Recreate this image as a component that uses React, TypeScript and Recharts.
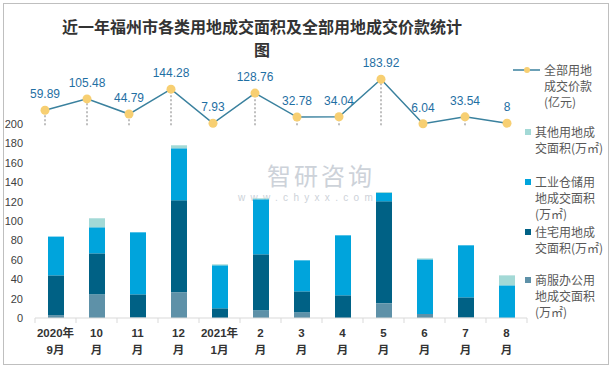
import { ComposedChart, Bar, Line, XAxis, YAxis, Legend, LabelList, ErrorBar } from 'recharts';

const months = ['2020年\n9月', '10\n月', '11\n月', '12\n月', '2021年\n1月', '2\n月', '3\n月', '4\n月', '5\n月', '6\n月', '7\n月', '8\n月'];
const commercialArea = [3, 24.4, 0.7, 26.5, 0, 7.9, 5.8, 0, 15.1, 4.1, 0.7, 0];
const residentialArea = [41, 42.3, 23.7, 94.9, 10, 57.8, 21.7, 23.4, 105.3, 0, 20.6, 0];
const industrialArea = [40, 26.9, 64, 53.7, 44.4, 56.8, 32, 61.9, 8.6, 56.4, 53.7, 33.7];
const otherArea = [0, 9.3, 0, 3.1, 1, 1, 0, 0, 1, 1, 0, 10.3];
const totalPrice = [59.89, 105.48, 44.79, 144.28, 7.93, 128.76, 32.78, 34.04, 183.92, 6.04, 33.54, 8];
const areaTicks = [0, 20, 40, 60, 80, 100, 120, 140, 160, 180, 200];

const data = months.map((month, i) => ({
  month,
  commercial: commercialArea[i],
  residential: residentialArea[i],
  industrial: industrialArea[i],
  other: otherArea[i],
  price: totalPrice[i],
  drop: [totalPrice[i], 0],
}));

// stack order bottom -> top
const barSeries = [
  { key: 'commercial', name: '商服办公用地成交面积(万㎡)', lines: ['商服办公用', '地成交面积', '(万㎡)'], color: '#5E91A8' },
  { key: 'residential', name: '住宅用地成交面积(万㎡)', lines: ['住宅用地成', '交面积(万㎡)'], color: '#006185' },
  { key: 'industrial', name: '工业仓储用地成交面积(万㎡)', lines: ['工业仓储用', '地成交面积', '(万㎡)'], color: '#00A4DC' },
  { key: 'other', name: '其他用地成交面积(万㎡)', lines: ['其他用地成', '交面积(万㎡)'], color: '#A3D9D6' },
];
const lineSeries = { key: 'price', name: '全部用地成交价款(亿元)', lines: ['全部用地', '成交价款', '(亿元)'], color: '#3A819E', dot: '#F7CF72' };

const legendText = { fontSize: 12, lineHeight: '16px', color: '#595959', fontFamily: "'Noto Sans CJK SC', sans-serif" };

function ChartLegend() {
  const bars = [...barSeries].reverse();
  const heights = [50, 50, 48, 50];
  return (
    <div style={{ width: 112 }}>
      <div style={{ height: 62, position: 'relative' }}>
        <svg width={30} height={16} style={{ position: 'absolute', left: 12, top: 0 }}>
          <line x1={1} x2={28} y1={8} y2={8} stroke={lineSeries.color} strokeWidth={1.5} />
          <circle cx={15} cy={8} r={3} fill={lineSeries.dot} />
        </svg>
        <div style={{ ...legendText, position: 'absolute', left: 44, top: 0 }}>
          {lineSeries.lines.map(t => <div key={t}>{t}</div>)}
        </div>
      </div>
      {bars.map((s, i) => (
        <div key={s.key} style={{ height: heights[i], position: 'relative' }}>
          <div style={{ position: 'absolute', left: 25, top: 5, width: 6, height: 6, background: s.color }} />
          <div style={{ ...legendText, position: 'absolute', left: 35, top: 0, whiteSpace: 'nowrap' }}>
            {s.lines.map(t => <div key={t}>{t}</div>)}
          </div>
        </div>
      ))}
    </div>
  );
}

function MonthTick(props: any) {
  const { x, y, payload, index, visibleTicksCount, width } = props;
  const band = (width || 492) / (visibleTicksCount || 12);
  const [top, bottom] = String(payload.value).split('\n');
  return (
    <g>
      <line x1={x - band / 2} x2={x - band / 2} y1={y} y2={y + 5} stroke="#D9D9D9" />
      {index === visibleTicksCount - 1 && (
        <line x1={x + band / 2} x2={x + band / 2} y1={y} y2={y + 5} stroke="#D9D9D9" />
      )}
      <text x={x} y={y + 19} textAnchor="middle" fontSize={11.5} fontWeight="bold" fill="#333">{top}</text>
      <text x={x} y={y + 36} textAnchor="middle" fontSize={11.5} fontWeight="bold" fill="#333">{bottom}</text>
    </g>
  );
}

export default function App() {
  return (
    <div style={{ position: 'absolute', left: 0, top: 0, width: 612, height: 368, background: '#fff', fontFamily: "'Liberation Sans', 'Noto Sans CJK SC', sans-serif" }}>
      <div style={{ position: 'absolute', left: 3, top: 3, width: 604, height: 360, border: '1px solid #BFBFBF' }} />
      <div style={{ position: 'absolute', left: 52, top: 15, width: 420, textAlign: 'center', fontSize: 16, lineHeight: '23px', fontWeight: 700, color: '#333', fontFamily: "'Noto Sans CJK SC', sans-serif" }}>
        近一年福州市各类用地成交面积及全部用地成交价款统计<br />图
      </div>
      <div style={{ position: 'absolute', left: 267, top: 163, fontSize: 24, lineHeight: '24px', color: '#CDD2D9', fontFamily: "'Noto Sans CJK SC', sans-serif", letterSpacing: 3 }}>
        智研咨询
      </div>
      <div style={{ position: 'absolute', left: 238, top: 192, fontSize: 10, lineHeight: '11px', color: '#CDD2D9', letterSpacing: 5.3 }}>
        www.chyxx.com
      </div>
      <ComposedChart width={612} height={368} data={data} margin={{ top: 66, right: 85, bottom: 0, left: 0 }} style={{ position: 'absolute', left: 0, top: 0 }}>
        <XAxis dataKey="month" interval={0} height={50} tickSize={0} tickMargin={0} tickLine={false} axisLine={{ stroke: '#D9D9D9' }} tick={<MonthTick />} />
        <XAxis xAxisId="line" dataKey="month" hide scale="point" padding={{ left: 10, right: 20 }} />
        <YAxis yAxisId="left" width={35} domain={[0, 260]} ticks={areaTicks} axisLine={false} tickLine={false} tickSize={0} tickMargin={12} tick={{ fontSize: 11, fill: '#404040' }} />
        <YAxis yAxisId="right" hide domain={[-771, 237]} allowDataOverflow />
        {barSeries.map(s => (
          <Bar key={s.key} dataKey={s.key} name={s.name} stackId="a" yAxisId="left" fill={s.color} barSize={16} isAnimationActive={false} />
        ))}
        <Line
          dataKey={lineSeries.key}
          name={lineSeries.name}
          xAxisId="line"
          yAxisId="right"
          stroke={lineSeries.color}
          strokeWidth={1.5}
          dot={{ r: 4.5, fill: lineSeries.dot, stroke: lineSeries.dot, strokeWidth: 0 }}
          activeDot={false}
          isAnimationActive={false}
        >
          <ErrorBar dataKey="drop" direction="y" width={0} stroke="#BFBFBF" strokeWidth={2} strokeDasharray="2 2" />
          <LabelList dataKey="price" position="top" offset={12} fill="#1F6FA3" fontSize={12} />
        </Line>
        <Legend layout="horizontal" verticalAlign="middle" align="center" content={<ChartLegend />} wrapperStyle={{ left: 500, top: 62, width: 112 }} />
      </ComposedChart>
    </div>
  );
}
